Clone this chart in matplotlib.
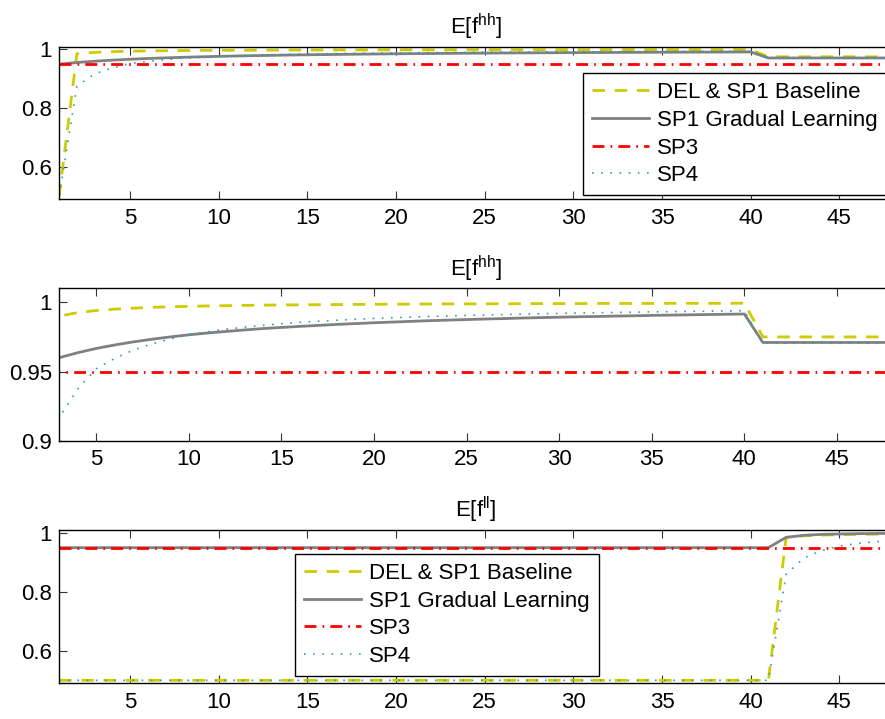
import numpy as np
import matplotlib
matplotlib.use("Agg")
from matplotlib import pyplot as plt

plt.rcParams['font.family'] = ['Liberation Sans', 'DejaVu Sans']
plt.rcParams['mathtext.fontset'] = 'custom'
plt.rcParams['mathtext.rm'] = 'Liberation Sans'

x = np.arange(1, 49)

# E[f^hh]
del_hh = [0.5, 0.985, 0.990, 0.9925, 0.994, 0.995, 0.9957, 0.9963, 0.9967, 0.997,
          0.9973, 0.9975, 0.9977, 0.9979, 0.998, 0.9981, 0.9982, 0.9983, 0.9984, 0.9985,
          0.9986, 0.9986, 0.9987, 0.9988, 0.9988, 0.9988, 0.9989, 0.9989, 0.999, 0.999,
          0.999, 0.9991, 0.9991, 0.9991, 0.9991, 0.9992, 0.9992, 0.9992, 0.9992, 0.9993] + [0.975] * 8
grad_hh = [0.95, 0.9556, 0.96, 0.9636, 0.9667, 0.9692, 0.9714, 0.9733, 0.975, 0.9765,
           0.9778, 0.9789, 0.98, 0.981, 0.9818, 0.9826, 0.9833, 0.984, 0.9846, 0.9852,
           0.9857, 0.9862, 0.9867, 0.9871, 0.9875, 0.9879, 0.9882, 0.9886, 0.9889, 0.9892,
           0.9895, 0.9897, 0.99, 0.9902, 0.9905, 0.9907, 0.9909, 0.9911, 0.9913, 0.9915] + [0.971] * 8
sp3_hh = [0.95] * 48
sp4_hh = [0.5, 0.875, 0.9167, 0.9375, 0.952, 0.9595, 0.9655, 0.970, 0.9735, 0.9765,
          0.9787, 0.9805, 0.982, 0.9833, 0.9845, 0.9855, 0.9863, 0.987, 0.9877, 0.9883,
          0.9888, 0.9893, 0.9897, 0.9901, 0.9905, 0.9908, 0.9911, 0.9914, 0.9917, 0.9919,
          0.9922, 0.9924, 0.9926, 0.9928, 0.993, 0.9932, 0.9934, 0.9935, 0.9937, 0.9939] + [0.9705] * 8

# E[f^ll]
del_ll = [0.5] * 41 + [0.985, 0.990, 0.9925, 0.994, 0.995, 0.9957, 0.9963]
grad_ll = [0.95] * 41 + [0.985, 0.992, 0.995, 0.9965, 0.9975, 0.998, 0.9985]
sp3_ll = [0.95] * 48
sp4_ll = [0.5] * 41 + [0.86, 0.915, 0.94, 0.955, 0.964, 0.97, 0.974]

labels = ["DEL & SP1 Baseline", "SP1 Gradual Learning", "SP3", "SP4"]
yellow = '#cccc00'
gray = '#808080'
red = '#ff0000'
teal = '#2b9cb8'


def draw(ax, d, g, r, s, xmin, ylo, yticks, yticklabels, title):
    ax.plot(x, d, color=yellow, lw=2.0, linestyle=(0, (4.5, 3.5)))
    ax.plot(x, g, color=gray, lw=2.0, linestyle='-')
    ax.plot(x, r, color=red, lw=2.0, linestyle=(0, (4.3, 2.2, 0.6, 2.2)))
    ax.plot(x, s, color=teal, lw=1.2, linestyle=(0, (1.0, 4.5)))
    ax.set_xlim(xmin, 48)
    ax.set_ylim(ylo, 1.01)
    ax.set_xticks([5, 10, 15, 20, 25, 30, 35, 40, 45])
    ax.set_yticks(yticks)
    ax.set_yticklabels(yticklabels)
    ax.tick_params(direction='in', top=True, right=True, length=6, width=0.8,
                   labelsize=16, color='#333333')
    ax.tick_params(axis='x', pad=6)
    ax.tick_params(axis='y', pad=5)
    for sp in ax.spines.values():
        sp.set_linewidth(1.0)
    ax.set_title(title, fontsize=16, pad=9)


fig = plt.figure(figsize=(8.85, 7.19), dpi=100)
ax1 = fig.add_axes([0.0668, 0.7228, 0.9417, 0.2125])
ax2 = fig.add_axes([0.0668, 0.3866, 0.9417, 0.2124])
ax3 = fig.add_axes([0.0668, 0.0497, 0.9417, 0.2132])

draw(ax1, del_hh, grad_hh, sp3_hh, sp4_hh, 1, 0.49, [0.6, 0.8, 1.0], ["0.6", "0.8", "1"],
     r'E[f$^{\rm hh}$]')
draw(ax2, del_hh, grad_hh, sp3_hh, sp4_hh, 3, 0.9, [0.9, 0.95, 1.0], ["0.9", "0.95", "1"],
     r'E[f$^{\rm hh}$]')
draw(ax3, del_ll, grad_ll, sp3_ll, sp4_ll, 1, 0.49, [0.6, 0.8, 1.0], ["0.6", "0.8", "1"],
     r'E[f$^{\rm ll}$]')

leg_kw = dict(loc='upper left', bbox_transform=fig.transFigure, fontsize=16,
              fancybox=False, framealpha=1, edgecolor='black', borderaxespad=0,
              handlelength=2.6, handletextpad=0.35, labelspacing=0.3, borderpad=0.4)
l1 = ax1.legend(labels, bbox_to_anchor=(0.6584, 0.898), **leg_kw)
l3 = ax3.legend(labels, bbox_to_anchor=(0.333, 0.2295), **leg_kw)
for leg in (l1, l3):
    leg.get_frame().set_linewidth(1.0)

fig.savefig("out.png", dpi=100)
